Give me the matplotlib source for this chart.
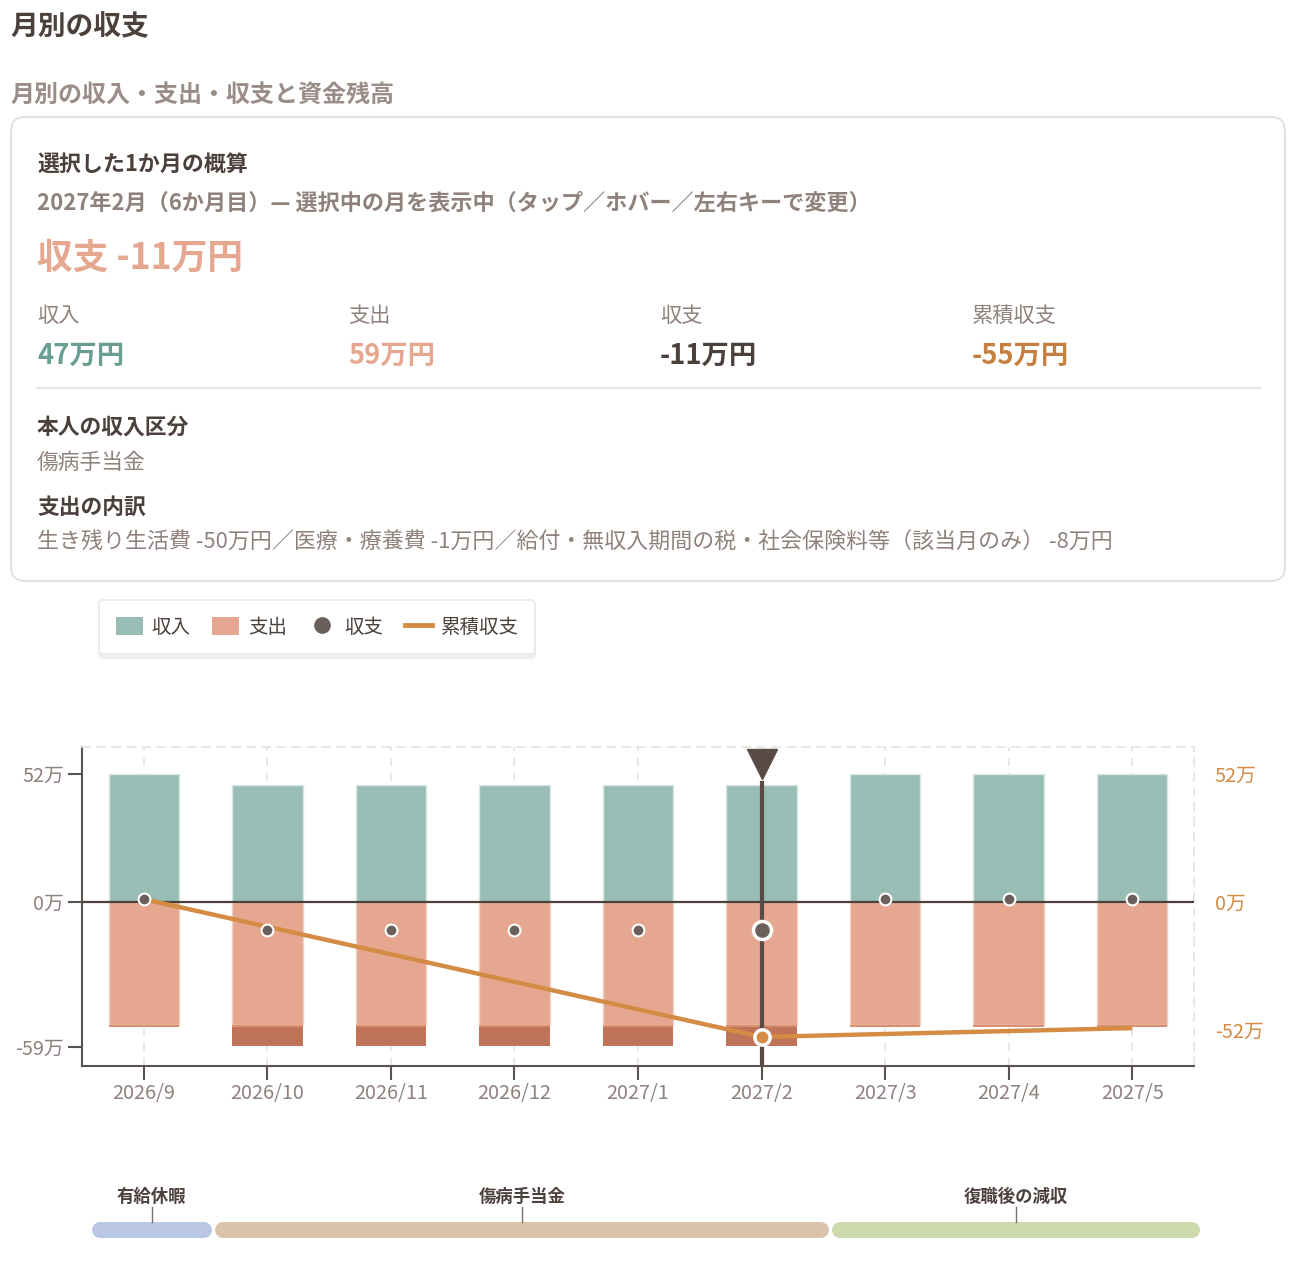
import numpy as np
import matplotlib
matplotlib.use('Agg')
import matplotlib.pyplot as plt
import matplotlib.transforms as mtransforms
from matplotlib.patches import FancyBboxPatch, Patch
from matplotlib.lines import Line2D

plt.rcParams['font.family'] = ['Noto Sans CJK JP', 'DejaVu Sans']

# data (万円)
months = ['2026/9', '2026/10', '2026/11', '2026/12', '2027/1', '2027/2', '2027/3', '2027/4', '2027/5']
income = np.array([52.0, 47.4, 47.4, 47.4, 47.4, 47.4, 52.0, 52.0, 52.0])
living = np.array([50.0, 50.0, 50.0, 50.0, 50.0, 50.0, 50.0, 50.0, 50.0])
medical = np.array([0.8, 0.8, 0.8, 0.8, 0.8, 0.8, 0.8, 0.8, 0.8])
tax = np.array([0.0, 7.8, 7.8, 7.8, 7.8, 7.8, 0.0, 0.0, 0.0])
selected = 5

left_ticks = [52, 0, -59]
left_labels = ['52万', '0万', '-59万']
right_ticks = [52, 0, -52]
right_labels = ['52万', '0万', '-52万']

phases = ['有給休暇', '傷病手当金', '復職後の減収']
phase_start = [0, 1, 6]
phase_end = [0, 5, 8]
phase_colors = ['#b9c7e5', '#dbc3ab', '#cdd9ad']

expense = living + medical + tax
net = income - expense
cum = np.cumsum(net)

c_income = '#97bdb4'
c_living = '#e5a790'
c_medical = '#d98f70'
c_tax = '#bf7459'
c_net = '#6b5f5b'
c_cum = '#d48c45'
c_dark = '#4b403c'
c_gray = '#8f817c'

W, H = 1296, 1262
fig = plt.figure(figsize=(W / 100, H / 100), dpi=100)

# background layer in pixel coords
bg = fig.add_axes([0, 0, 1, 1])
bg.set_xlim(0, W)
bg.set_ylim(H, 0)
bg.axis('off')

bg.text(10, 27, '月別の収支', fontsize=20, fontweight='bold', color=c_dark, va='center')
bg.text(10, 95, '月別の収入・支出・収支と資金残高', fontsize=17.3, fontweight='bold', color='#9a8c87', va='center')

card = FancyBboxPatch((11, 117), 1274, 464, boxstyle='round,pad=0,rounding_size=14',
                      facecolor='white', edgecolor='#e6e1de', linewidth=1.5)
bg.add_patch(card)

bg.text(37, 164, '選択した1か月の概算', fontsize=15.8, fontweight='bold', color=c_dark, va='center')
bg.text(37, 203, '2027年2月（6か月目）— 選択中の月を表示中（タップ／ホバー／左右キーで変更）',
        fontsize=15.9, fontweight='bold', color=c_gray, va='center')
bg.text(37, 258, '収支 -11万円', fontsize=25.7, fontweight='bold', color=c_living, va='center')

cols_x = [37, 348, 660, 972]
col_labels = ['収入', '支出', '収支', '累積収支']
col_values = ['47万円', '59万円', '-11万円', '-55万円']
col_colors = ['#6a9e93', c_living, c_dark, '#c57f3e']
for x, lab, val, col in zip(cols_x, col_labels, col_values, col_colors):
    bg.text(x, 316, lab, fontsize=15.3, color=c_gray, va='center')
    bg.text(x, 356, val, fontsize=19.7, fontweight='bold', color=col, va='center')

bg.plot([37, 1260], [388, 388], color='#e8e4e1', linewidth=1.5)
bg.text(37, 427, '本人の収入区分', fontsize=15.7, fontweight='bold', color=c_dark, va='center')
bg.text(37, 463, '傷病手当金', fontsize=15.7, color=c_gray, va='center')
bg.text(37, 507, '支出の内訳', fontsize=15.7, fontweight='bold', color=c_dark, va='center')
bg.text(37, 543, '生き残り生活費 -50万円／医療・療養費 -1万円／給付・無収入期間の税・社会保険料等（該当月のみ） -8万円',
        fontsize=15.8, color=c_gray, va='center')

# main chart
ax = fig.add_axes([82 / W, 1 - 1066 / H, 1112 / W, 319 / H])
x = np.arange(len(months))
bw = 0.57
ax.bar(x, income, width=bw, color=c_income, edgecolor='#d7e7e3', linewidth=1, zorder=2)
ax.bar(x, -living, width=bw, color=c_living, edgecolor='#f1d2c6', linewidth=1, zorder=2)
ax.bar(x, -medical, bottom=-living, width=bw, color=c_medical, linewidth=0, zorder=2)
ax.bar(x, -tax, bottom=-(living + medical), width=bw, color=c_tax, linewidth=0, zorder=2)

ax.axhline(0, color=c_dark, linewidth=1.6, zorder=3)
ax.plot(x, cum, color=c_cum, linewidth=3.2, zorder=4, solid_capstyle='butt')

others = [i for i in x if i != selected]
ax.plot(x[others], net[others], 'o', markersize=8.5, color=c_net, markeredgecolor='white',
        markeredgewidth=1.5, zorder=6)

# selected month
sel_top = 48.3
ylo, yhi = -66.6, 63.0
ax.axvline(selected, ymin=0, ymax=(sel_top - ylo) / (yhi - ylo), color='#5a4a45', linewidth=3, zorder=5)
trans = mtransforms.blended_transform_factory(ax.transData, ax.transAxes)
ax.plot([selected], [0.947], marker='v', markersize=21, color='#5a4a45', transform=trans,
        clip_on=False, zorder=7)
ax.plot([selected], [net[selected]], 'o', markersize=13, color=c_net, markeredgecolor='white',
        markeredgewidth=2.5, zorder=7)
ax.plot([selected], [cum[selected]], 'o', markersize=11, color=c_cum, markeredgecolor='white',
        markeredgewidth=2.5, zorder=7)

ax.set_xlim(-0.5, len(months) - 0.5)
ax.set_ylim(ylo, yhi)
ax.set_xticks(x)
ax.set_xticklabels(months)
ax.set_yticks(left_ticks)
ax.set_yticklabels(left_labels)
ax.tick_params(axis='both', colors='#5a5250', labelcolor=c_gray, labelsize=14.3, length=10, width=1.5)
ax.tick_params(axis='x', pad=2)
ax.tick_params(axis='y', pad=3)
ax.grid(axis='x', color='#e6e3e1', linestyle=(0, (5, 4)), linewidth=1.2, zorder=0)
for s in ['top', 'right']:
    ax.spines[s].set_color('#e6e3e1')
    ax.spines[s].set_linestyle((0, (5, 4)))
    ax.spines[s].set_linewidth(1.2)
for s in ['left', 'bottom']:
    ax.spines[s].set_color('#5a5250')
    ax.spines[s].set_linewidth(1.5)

ax2 = ax.twinx()
ax2.set_ylim(ylo, yhi)
ax2.set_yticks(right_ticks)
ax2.set_yticklabels(right_labels)
ax2.tick_params(axis='y', length=0, labelcolor=c_cum, labelsize=14.3, pad=15)
for s in ax2.spines.values():
    s.set_visible(False)

# legend
handles = [Patch(facecolor=c_income, edgecolor='none', label='収入'),
           Patch(facecolor=c_living, edgecolor='none', label='支出'),
           Line2D([], [], marker='o', linestyle='none', markersize=11, color=c_net, label='収支'),
           Line2D([], [], color=c_cum, linewidth=3.5, label='累積収支')]
leg = fig.legend(handles=handles, loc='upper left', bbox_to_anchor=(99 / W, 1 - 600 / H), ncol=4,
                 frameon=True, fancybox=True, edgecolor='#ebe7e5', facecolor='white',
                 fontsize=14, handlelength=1.4, handleheight=1.0, handletextpad=0.45,
                 columnspacing=1.1, borderpad=0.85, borderaxespad=0, labelcolor='#4b403c',
                 shadow={'color': '#f1efee', 'alpha': 1.0, 'ox': 0, 'oy': -3})
leg.get_frame().set_linewidth(1.2)

# timeline
tl = fig.add_axes([90 / W, 1 - 1250 / H, 1111 / W, 80 / H])
tl.set_xlim(-0.5, len(months) - 0.5)
tl.set_ylim(0, 80)
tl.axis('off')
unit_px = 1111 / len(months)
cap = 8 / unit_px
gap = 1.5 / unit_px
for name, s, e, col in zip(phases, phase_start, phase_end, phase_colors):
    x0 = s - 0.5 + cap + gap
    x1 = e + 0.5 - cap - gap
    tl.plot([x0, x1], [20, 20], color=col, linewidth=11.5, solid_capstyle='round')
    xc = (s + e) / 2
    tl.plot([xc, xc], [28, 43], color='#7a6f6b', linewidth=1)
    tl.text(xc, 53, name, ha='center', va='center', fontsize=12.5, fontweight='bold', color=c_dark)

fig.savefig('out.png', dpi=100)
